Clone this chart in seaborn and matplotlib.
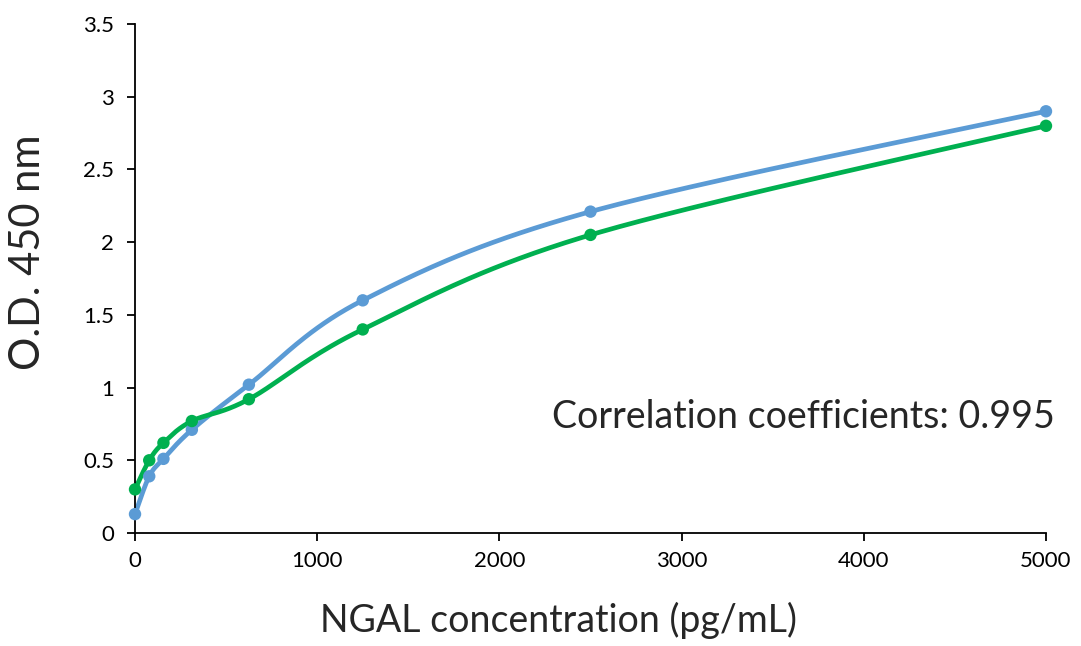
import numpy as np
import pandas as pd
import seaborn as sns
import matplotlib.pyplot as plt

# NGAL standard curve, two runs
conc = [0, 78, 156, 312, 625, 1250, 2500, 5000]
od_blue = [0.13, 0.39, 0.51, 0.71, 1.02, 1.60, 2.21, 2.90]
od_green = [0.30, 0.50, 0.62, 0.77, 0.92, 1.40, 2.05, 2.80]

x_ticks = [0, 1000, 2000, 3000, 4000, 5000]
y_ticks = [0, 0.5, 1, 1.5, 2, 2.5, 3, 3.5]

blue = '#5B9BD5'
green = '#00B050'


def smooth(x, y, sx=5000.0, sy=3.5, n=40):
    # Excel-style smoothed line (Catmull-Rom bezier), done in scaled space
    px = np.asarray(x, float) / sx
    py = np.asarray(y, float) / sy
    pts = np.column_stack([px, py])
    out = []
    for i in range(len(pts) - 1):
        p0 = pts[i - 1] if i > 0 else pts[i]
        p1, p2 = pts[i], pts[i + 1]
        p3 = pts[i + 2] if i + 2 < len(pts) else pts[i + 1]
        c1 = p1 + (p2 - p0) / 6
        c2 = p2 - (p3 - p1) / 6
        t = np.linspace(0, 1, n)[:, None]
        seg = ((1 - t) ** 3) * p1 + 3 * ((1 - t) ** 2) * t * c1 + 3 * (1 - t) * t ** 2 * c2 + t ** 3 * p2
        out.append(seg if i == 0 else seg[1:])
    out = np.vstack(out)
    return out[:, 0] * sx, out[:, 1] * sy


sns.set_style('ticks')
plt.rcParams['font.family'] = ['Lato', 'DejaVu Sans']

fig = plt.figure(figsize=(10.81, 6.46), dpi=100)
ax = fig.add_axes([0.1249, 0.1749, 0.8427, 0.7879])

for y, c in [(od_blue, blue), (od_green, green)]:
    sx, sy = smooth(conc, y)
    curve = pd.DataFrame({'x': sx, 'y': sy})
    sns.lineplot(data=curve, x='x', y='y', sort=False, color=c, linewidth=3.4, ax=ax,
                 clip_on=False)
    pts = pd.DataFrame({'x': conc, 'y': y})
    sns.scatterplot(data=pts, x='x', y='y', color=c, s=80, edgecolor='none', ax=ax,
                    zorder=3, clip_on=False)

ax.set_xlim(0, 5000)
ax.set_ylim(0, 3.5)
ax.set_xticks(x_ticks)
ax.set_yticks(y_ticks)
ax.set_yticklabels(['0', '0.5', '1', '1.5', '2', '2.5', '3', '3.5'])
ax.tick_params(axis='both', labelsize=16, length=6, width=1.3, colors='black')
ax.tick_params(axis='x', pad=7)
ax.tick_params(axis='y', pad=9)
for s in ['left', 'bottom']:
    ax.spines[s].set_linewidth(1.3)
    ax.spines[s].set_color('black')
sns.despine(ax=ax)

ax.set_xlabel('NGAL concentration (pg/mL)', fontsize=27)
ax.xaxis.set_label_coords(0.4648, -0.135)
ax.set_ylabel('O.D. 450 nm', fontsize=30)
ax.yaxis.set_label_coords(-0.097, 0.551)
ax.text(1.01, 0.228, 'Correlation coefficients: 0.995', transform=ax.transAxes,
        ha='right', va='center', fontsize=27)

fig.savefig('out.png', dpi=100)
